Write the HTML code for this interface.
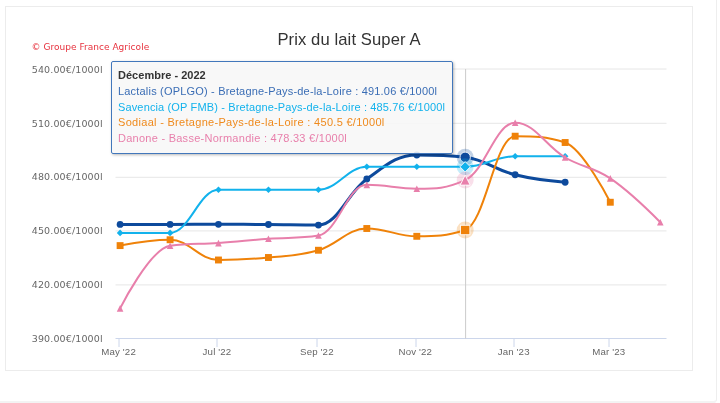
<!DOCTYPE html>
<html lang="fr"><head><meta charset="utf-8"><title>Prix du lait Super A</title>
<style>
html,body{margin:0;padding:0;background:#fff;}
body{width:720px;height:403px;overflow:hidden;position:relative;font-family:"Liberation Sans","DejaVu Sans",sans-serif;}
.card{position:absolute;left:-6px;top:-6px;width:722.8px;height:409.75px;border:1px solid #eeeeee;border-bottom:3px solid #f3f3f3;border-radius:5px;background:#fff;box-sizing:border-box;}
.chart{position:absolute;left:5px;top:5.5px;width:688px;height:365px;border:1px solid #ececec;box-sizing:border-box;background:#fff;}
.title{position:absolute;left:5.5px;width:687px;text-align:center;top:30px;letter-spacing:0.1px;font-size:16.6px;color:#333;white-space:nowrap;font-family:"Liberation Sans",sans-serif;}
.title span{display:inline-block;}
.credits{position:absolute;left:31.5px;top:42px;font-size:9px;line-height:11px;letter-spacing:0.03px;color:#e7323e;white-space:nowrap;font-family:"DejaVu Sans","Liberation Sans",sans-serif;}
.yl{position:absolute;right:617.3px;letter-spacing:0.13px;font-size:9.5px;line-height:12px;margin-top:-5.7px;color:#666;white-space:nowrap;font-family:"DejaVu Sans","Liberation Sans",sans-serif;}
.xl{position:absolute;top:346.3px;font-size:9.7px;letter-spacing:0.15px;line-height:12px;color:#666;white-space:nowrap;transform:translateX(-50%);font-family:"Liberation Sans",sans-serif;}
.tip{position:absolute;left:111px;top:61.4px;width:342px;height:93px;box-sizing:border-box;border:1px solid #4277bb;border-radius:2px;background:rgba(247,247,247,0.88);box-shadow:1px 1px 3px rgba(0,0,0,0.28);font-size:11px;font-family:"Liberation Sans",sans-serif;}
.tip div{position:absolute;left:6px;white-space:nowrap;line-height:14px;}
</style></head><body>
<div class="card"></div>
<div class="chart"></div>
<svg width="687" height="364" viewBox="5.5 6 687 364" style="position:absolute;left:5.5px;top:6px">
<path d="M 115 69.0 L 666 69.0" stroke="#e6e6e6" stroke-width="1" fill="none"/>
<path d="M 115 123.3 L 666 123.3" stroke="#e6e6e6" stroke-width="1" fill="none"/>
<path d="M 115 177.3 L 666 177.3" stroke="#e6e6e6" stroke-width="1" fill="none"/>
<path d="M 115 230.9 L 666 230.9" stroke="#e6e6e6" stroke-width="1" fill="none"/>
<path d="M 115 284.9 L 666 284.9" stroke="#e6e6e6" stroke-width="1" fill="none"/>
<path d="M 115 338.5 L 666 338.5" stroke="#ccd6eb" stroke-width="1" fill="none"/>
<path d="M 118.5 338.5 L 118.5 347" stroke="#ccd6eb" stroke-width="1" fill="none"/>
<path d="M 216.5 338.5 L 216.5 347" stroke="#ccd6eb" stroke-width="1" fill="none"/>
<path d="M 316.5 338.5 L 316.5 347" stroke="#ccd6eb" stroke-width="1" fill="none"/>
<path d="M 415.5 338.5 L 415.5 347" stroke="#ccd6eb" stroke-width="1" fill="none"/>
<path d="M 513.5 338.5 L 513.5 347" stroke="#ccd6eb" stroke-width="1" fill="none"/>
<path d="M 608.5 338.5 L 608.5 347" stroke="#ccd6eb" stroke-width="1" fill="none"/>
<path d="M 465.1 69.0 L 465.1 338.5" stroke="#cccccc" stroke-width="1" fill="none"/>
<path d="M 119.60 224.40 C 119.60 224.40 149.59 224.40 169.59 224.40 C 188.94 224.40 198.61 224.30 217.96 224.30 C 237.96 224.30 247.95 224.35 267.95 224.50 C 287.94 224.65 297.94 225.05 317.94 225.05 C 337.29 225.05 346.96 192.78 366.31 179.00 C 386.31 164.76 396.30 155.00 416.30 155.00 C 435.65 155.00 445.32 155.00 464.67 157.30 C 484.67 159.60 494.67 169.76 514.66 174.75 C 534.66 179.74 564.65 182.25 564.65 182.25" fill="none" stroke="#0d4a9c" stroke-width="3" stroke-linejoin="round" stroke-linecap="round"/>
<circle cx="464.67" cy="157.30" r="8.5" fill="#0d4a9c" fill-opacity="0.25"/>
<circle cx="119.60" cy="224.40" r="3.40" fill="#0d4a9c"/>
<circle cx="169.59" cy="224.40" r="3.40" fill="#0d4a9c"/>
<circle cx="217.96" cy="224.30" r="3.40" fill="#0d4a9c"/>
<circle cx="267.95" cy="224.50" r="3.40" fill="#0d4a9c"/>
<circle cx="317.94" cy="225.05" r="3.40" fill="#0d4a9c"/>
<circle cx="366.31" cy="179.00" r="3.40" fill="#0d4a9c"/>
<circle cx="416.30" cy="155.00" r="3.40" fill="#0d4a9c"/>
<circle cx="464.67" cy="157.30" r="5.20" fill="#0d4a9c" stroke="#ffffff" stroke-opacity="0.9" stroke-width="1"/>
<circle cx="514.66" cy="174.75" r="3.40" fill="#0d4a9c"/>
<circle cx="564.65" cy="182.25" r="3.40" fill="#0d4a9c"/>
<path d="M 119.60 232.90 C 119.60 232.90 149.59 232.90 169.59 232.90 C 188.94 232.90 198.61 189.80 217.96 189.80 C 237.96 189.80 247.95 189.80 267.95 189.80 C 287.94 189.80 297.94 189.80 317.94 189.80 C 337.29 189.80 346.96 166.70 366.31 166.70 C 386.31 166.70 396.30 166.80 416.30 166.80 C 435.65 166.80 445.32 166.80 464.67 166.80 C 484.67 166.80 494.67 156.30 514.66 156.30 C 534.66 156.30 564.65 156.30 564.65 156.30" fill="none" stroke="#12b2ec" stroke-width="2" stroke-linejoin="round" stroke-linecap="round"/>
<circle cx="464.67" cy="166.80" r="8.5" fill="#12b2ec" fill-opacity="0.25"/>
<path d="M 119.60 229.60 L 122.90 232.90 119.60 236.20 116.30 232.90 Z" fill="#12b2ec"/>
<path d="M 169.59 229.60 L 172.89 232.90 169.59 236.20 166.29 232.90 Z" fill="#12b2ec"/>
<path d="M 217.96 186.50 L 221.26 189.80 217.96 193.10 214.66 189.80 Z" fill="#12b2ec"/>
<path d="M 267.95 186.50 L 271.25 189.80 267.95 193.10 264.65 189.80 Z" fill="#12b2ec"/>
<path d="M 317.94 186.50 L 321.24 189.80 317.94 193.10 314.64 189.80 Z" fill="#12b2ec"/>
<path d="M 366.31 163.40 L 369.61 166.70 366.31 170.00 363.01 166.70 Z" fill="#12b2ec"/>
<path d="M 416.30 163.50 L 419.60 166.80 416.30 170.10 413.00 166.80 Z" fill="#12b2ec"/>
<path d="M 464.67 161.60 L 469.87 166.80 464.67 172.00 459.47 166.80 Z" fill="#12b2ec" stroke="#ffffff" stroke-opacity="0.9" stroke-width="1"/>
<path d="M 514.66 153.00 L 517.96 156.30 514.66 159.60 511.36 156.30 Z" fill="#12b2ec"/>
<path d="M 564.65 153.00 L 567.95 156.30 564.65 159.60 561.35 156.30 Z" fill="#12b2ec"/>
<path d="M 119.60 245.60 C 119.60 245.60 149.59 239.75 169.59 239.75 C 188.94 239.75 198.61 260.00 217.96 260.00 C 237.96 260.00 247.95 259.45 267.95 257.50 C 287.94 255.55 297.94 256.15 317.94 250.25 C 337.29 244.55 346.96 228.50 366.31 228.50 C 386.31 228.50 396.30 236.30 416.30 236.30 C 435.65 236.30 445.32 236.30 464.67 230.00 C 484.67 223.70 494.67 136.20 514.66 136.20 C 534.66 136.20 544.65 136.20 564.65 142.50 C 582.71 148.80 609.80 202.25 609.80 202.25" fill="none" stroke="#ef8209" stroke-width="2" stroke-linejoin="round" stroke-linecap="round"/>
<circle cx="464.67" cy="230.00" r="8.5" fill="#ef8209" fill-opacity="0.25"/>
<rect x="116.15" y="242.15" width="6.90" height="6.90" fill="#ef8209"/>
<rect x="166.14" y="236.30" width="6.90" height="6.90" fill="#ef8209"/>
<rect x="214.51" y="256.55" width="6.90" height="6.90" fill="#ef8209"/>
<rect x="264.50" y="254.05" width="6.90" height="6.90" fill="#ef8209"/>
<rect x="314.49" y="246.80" width="6.90" height="6.90" fill="#ef8209"/>
<rect x="362.86" y="225.05" width="6.90" height="6.90" fill="#ef8209"/>
<rect x="412.85" y="232.85" width="6.90" height="6.90" fill="#ef8209"/>
<rect x="459.97" y="225.30" width="9.40" height="9.40" fill="#ef8209" stroke="#ffffff" stroke-opacity="0.9" stroke-width="1"/>
<rect x="511.21" y="132.75" width="6.90" height="6.90" fill="#ef8209"/>
<rect x="561.20" y="139.05" width="6.90" height="6.90" fill="#ef8209"/>
<rect x="606.35" y="198.80" width="6.90" height="6.90" fill="#ef8209"/>
<path d="M 119.60 308.40 C 119.60 308.40 149.59 248.50 169.59 245.80 C 188.94 243.10 198.61 244.49 217.96 243.10 C 237.96 241.67 247.95 240.27 267.95 238.75 C 287.94 237.23 297.94 238.75 317.94 235.50 C 337.29 232.25 346.96 184.85 366.31 184.85 C 386.31 184.85 396.30 188.75 416.30 188.75 C 435.65 188.75 445.32 188.75 464.67 180.10 C 484.67 171.45 494.67 122.80 514.66 122.80 C 534.66 122.80 544.65 145.81 564.65 157.50 C 582.71 168.05 591.74 166.12 609.80 178.40 C 629.79 192.00 659.79 222.20 659.79 222.20" fill="none" stroke="#e87fab" stroke-width="2" stroke-linejoin="round" stroke-linecap="round"/>
<circle cx="464.67" cy="180.10" r="8.5" fill="#e87fab" fill-opacity="0.25"/>
<path d="M 119.60 305.10 L 122.90 311.70 116.30 311.70 Z" fill="#e87fab"/>
<path d="M 169.59 242.50 L 172.89 249.10 166.29 249.10 Z" fill="#e87fab"/>
<path d="M 217.96 239.80 L 221.26 246.40 214.66 246.40 Z" fill="#e87fab"/>
<path d="M 267.95 235.45 L 271.25 242.05 264.65 242.05 Z" fill="#e87fab"/>
<path d="M 317.94 232.20 L 321.24 238.80 314.64 238.80 Z" fill="#e87fab"/>
<path d="M 366.31 181.55 L 369.61 188.15 363.01 188.15 Z" fill="#e87fab"/>
<path d="M 416.30 185.45 L 419.60 192.05 413.00 192.05 Z" fill="#e87fab"/>
<path d="M 464.67 175.10 L 469.67 185.10 459.67 185.10 Z" fill="#e87fab" stroke="#ffffff" stroke-opacity="0.9" stroke-width="1"/>
<path d="M 514.66 119.50 L 517.96 126.10 511.36 126.10 Z" fill="#e87fab"/>
<path d="M 564.65 154.20 L 567.95 160.80 561.35 160.80 Z" fill="#e87fab"/>
<path d="M 609.80 175.10 L 613.10 181.70 606.50 181.70 Z" fill="#e87fab"/>
<path d="M 659.79 218.90 L 663.09 225.50 656.49 225.50 Z" fill="#e87fab"/>
</svg>
<div class="title"><span id="ttl">Prix du lait Super A</span></div>
<div class="credits" id="cr">© Groupe France Agricole</div>
<div class="yl" style="top:69.4px">540.00€/1000l</div><div class="yl" style="top:123.2px">510.00€/1000l</div><div class="yl" style="top:177.0px">480.00€/1000l</div><div class="yl" style="top:230.6px">450.00€/1000l</div><div class="yl" style="top:284.6px">420.00€/1000l</div><div class="yl" style="top:338.5px">390.00€/1000l</div>
<div class="xl" style="left:118.6px">May '22</div><div class="xl" style="left:217.0px">Jul '22</div><div class="xl" style="left:316.9px">Sep '22</div><div class="xl" style="left:415.3px">Nov '22</div><div class="xl" style="left:513.7px">Jan '23</div><div class="xl" style="left:608.8px">Mar '23</div>
<div class="tip">
<div id="t0" style="top:6px;letter-spacing:0.02px;color:#333;font-weight:bold">Décembre - 2022</div>
<div id="t1" style="letter-spacing:0.19px;top:21.6px;color:#3a6db5">Lactalis (OPLGO) - Bretagne-Pays-de-la-Loire : 491.06 €/1000l</div>
<div id="t2" style="letter-spacing:0.14px;top:37.2px;color:#12b2ec">Savencia (OP FMB) - Bretagne-Pays-de-la-Loire : 485.76 €/1000l</div>
<div id="t3" style="letter-spacing:0.30px;top:52.8px;color:#ef8a1d">Sodiaal - Bretagne-Pays-de-la-Loire : 450.5 €/1000l</div>
<div id="t4" style="letter-spacing:0.26px;top:68.4px;color:#e87fab">Danone - Basse-Normandie : 478.33 €/1000l</div>
</div>
</body></html>
